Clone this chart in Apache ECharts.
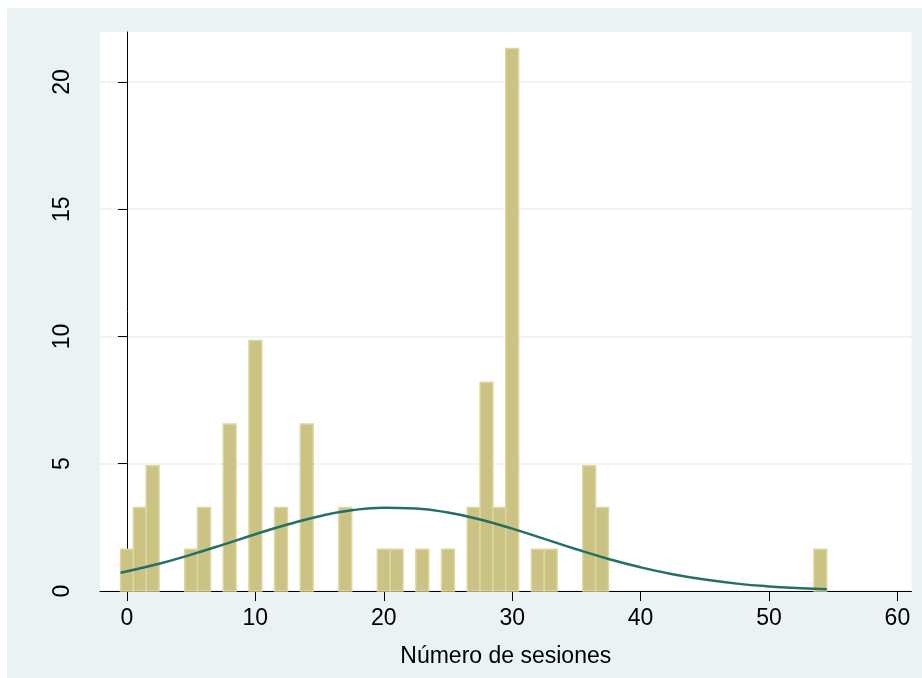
<!DOCTYPE html>
<html>
<head>
<meta charset="utf-8">
<script src="https://cdn.jsdelivr.net/npm/echarts@6/dist/echarts.min.js"></script>
<style>
  html, body { margin: 0; padding: 0; background: #ffffff; }
  #chart { position: absolute; left: 7px; top: 8px; width: 915px; height: 670px; }
</style>
</head>
<body>
<div id="chart"></div>
<script>
// Number of sessions (discrete values) and percent of cases at each value
const sessionValues = [0, 1, 2, 5, 6, 8, 10, 12, 14, 17, 20, 21, 23, 25, 27, 28, 29, 30, 32, 33, 36, 37, 54];
const sessionPercent = [1.64, 3.28, 4.92, 1.64, 3.28, 6.56, 9.84, 3.28, 6.56, 3.28, 1.64, 1.64, 1.64, 1.64, 3.28, 8.2, 3.28, 21.31, 1.64, 1.64, 4.92, 3.28, 1.64];

// Overlaid normal curve, sampled along the range of the bins
const curveX = [-0.5, 2.5, 5, 7.5, 10, 12.5, 15, 17.5, 20, 22.5, 25, 27.5, 30, 32.5, 35, 37.5, 40, 42.5, 45, 47.5, 50, 52.5, 54.5];
const curveY = [0.72, 1.07, 1.43, 1.82, 2.23, 2.61, 2.94, 3.17, 3.27, 3.24, 3.08, 2.81, 2.45, 2.05, 1.64, 1.26, 0.93, 0.66, 0.45, 0.29, 0.18, 0.11, 0.07];

// Axis ticks
const xTicks = [0, 10, 20, 30, 40, 50, 60];
const yTicks = [0, 5, 10, 15, 20];
const xTitle = 'Número de sesiones';

const FONT = 'Liberation Sans';
const chart = echarts.init(document.getElementById('chart'), null, { renderer: 'canvas' });

chart.setOption({
  animation: false,
  backgroundColor: '#eaf2f3',
  grid: {
    left: 93, right: 10.5, top: 24, bottom: 87,
    show: true, backgroundColor: '#ffffff', borderWidth: 0
  },
  xAxis: {
    type: 'value',
    min: -2.1, max: 61.1,
    name: xTitle,
    nameLocation: 'middle',
    nameGap: 54,
    nameTextStyle: { fontFamily: FONT, fontSize: 23, color: '#000000' },
    axisLine: { show: true, onZero: false, lineStyle: { color: '#000000', width: 1 } },
    axisTick: { show: true, length: 10, customValues: xTicks, lineStyle: { color: '#000000', width: 1 } },
    axisLabel: { customValues: xTicks, margin: 16, fontFamily: FONT, fontSize: 23, color: '#000000' },
    splitLine: { show: false }
  },
  yAxis: {
    type: 'value',
    min: 0, max: 21.96,
    axisLine: { show: true, lineStyle: { color: '#000000', width: 1 } },
    axisTick: { show: true, length: 9, customValues: yTicks, lineStyle: { color: '#000000', width: 1 } },
    axisLabel: { customValues: yTicks, rotate: 90, margin: 26, fontFamily: FONT, fontSize: 23, color: '#000000' },
    splitLine: { show: true, lineStyle: { color: '#eaf2f3', width: 1.5 } }
  },
  series: [
    {
      type: 'custom',
      data: sessionValues.map((v, i) => [v, sessionPercent[i]]),
      encode: { x: 0, y: 1 },
      renderItem: function (params, api) {
        const v = api.value(0);
        const p = api.value(1);
        const topLeft = api.coord([v - 0.5, p]);
        const bottomRight = api.coord([v + 0.5, 0]);
        return {
          type: 'rect',
          shape: {
            x: topLeft[0], y: topLeft[1],
            width: bottomRight[0] - topLeft[0],
            height: bottomRight[1] - topLeft[1]
          },
          style: { fill: '#cbc383', stroke: '#dcd6a2', lineWidth: 1.5 }
        };
      },
      z: 2
    },
    {
      type: 'line',
      data: curveX.map((x, i) => [x, curveY[i]]),
      smooth: true,
      showSymbol: false,
      lineStyle: { color: '#256f66', width: 2.5 },
      z: 3
    }
  ]
});
</script>
</body>
</html>
